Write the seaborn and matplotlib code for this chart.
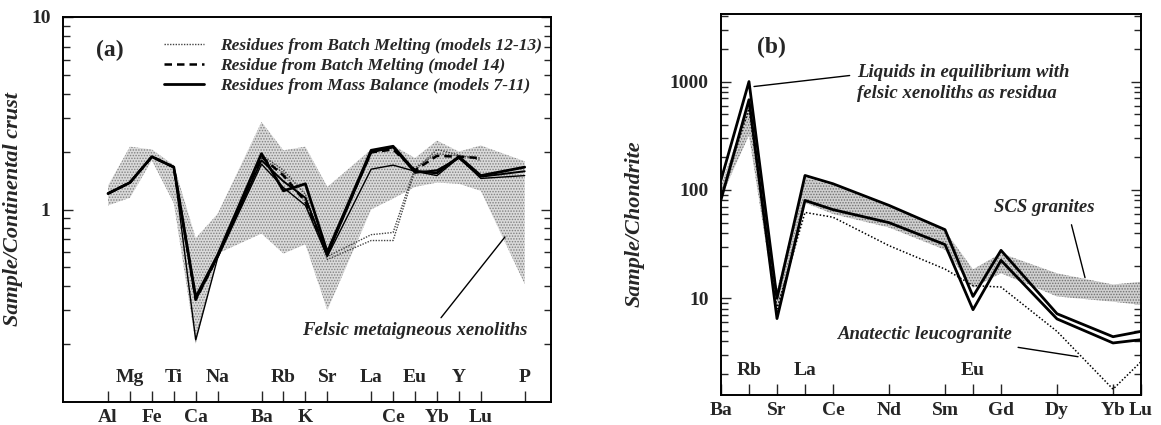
import numpy as np
import pandas as pd
import matplotlib
matplotlib.use("Agg")
import matplotlib.pyplot as plt
import seaborn as sns
from matplotlib.ticker import FixedLocator, NullFormatter, LogLocator

# ---------------- panel (a): normalised to continental crust ----------------
a_elements = ["Al", "Mg", "Fe", "Ti", "Ca", "Na", "Ba", "Rb", "K", "Sr",
              "La", "Ce", "Eu", "Yb", "Y", "Lu", "P"]
a_slots = [0, 1, 2, 3, 4, 5, 7, 8, 9, 10, 12, 13, 14, 15, 16, 17, 19]
a_inside = ["Mg", "Ti", "Na", "Rb", "Sr", "La", "Eu", "Y", "P"]

# felsic metaigneous xenoliths (shaded field)
a_field_hi = [1.33, 2.12, 2.05, 1.70, 0.71, 0.95, 2.85, 2.03, 2.12, 1.31,
              2.05, 2.15, 1.85, 2.28, 2.00, 2.15, 1.78]
a_field_lo = [1.05, 1.15, 1.80, 1.08, 0.20, 0.59, 0.75, 0.59, 0.66, 0.30,
              1.00, 1.14, 1.31, 1.38, 1.36, 1.25, 0.41]

# residues from mass balance (models 7-11)
a_mb1 = [1.21, 1.38, 1.88, 1.66, 0.35, 0.58, 1.95, 1.25, 1.36, 0.60,
         2.03, 2.13, 1.58, 1.55, 1.88, 1.50, 1.66]
a_mb2 = [1.21, 1.38, 1.88, 1.66, 0.34, 0.57, 1.80, 1.40, 1.15, 0.58,
         1.98, 2.10, 1.55, 1.60, 1.85, 1.48, 1.58]
a_mb3 = [1.21, 1.38, 1.88, 1.66, 0.21, 0.56, 1.72, 1.30, 1.05, 0.57,
         1.62, 1.70, 1.58, 1.50, 1.86, 1.45, 1.50]
# residue from batch melting (model 14)
a_bm14 = [1.21, 1.38, 1.88, 1.66, 0.34, 0.57, 1.88, 1.50, 1.10, 0.60,
          1.98, 2.05, 1.60, 1.90, 1.88, 1.85, np.nan]
# residues from batch melting (models 12-13)
a_bm12 = [1.21, 1.38, 1.88, 1.66, 0.34, 0.57, 1.92, 1.60, 1.20, 0.57,
          0.74, 0.76, 1.65, 1.95, 1.90, 1.85, np.nan]
a_bm13 = [1.21, 1.38, 1.88, 1.66, 0.34, 0.57, 1.85, 1.55, 1.10, 0.55,
          0.69, 0.69, 1.60, 2.05, 1.92, 1.80, np.nan]

# ---------------- panel (b): normalised to chondrite ----------------
b_elements = ["Ba", "Rb", "Sr", "La", "Ce", "Nd", "Sm", "Eu", "Gd", "Dy", "Yb", "Lu"]
b_slots = [0, 1, 2, 3, 4, 6, 8, 9, 10, 12, 14, 15]
b_inside = ["Rb", "La", "Eu"]

b_scs_hi = [110, 600, 12, 130, 110, 70, 42, 18.5, 26, 17, 13.4, 14.2]
b_scs_lo = [85, 320, 7, 76, 60, 45, 28, 12.5, 17, 10.4, 9.3, 8.7]
b_liq_hi = [123, 1000, 10.0, 136, 114, 72, 43, 10.4, 27.7, 7.2, 4.42, 4.95]
b_liq_lo = [81, 680, 6.5, 80, 65.8, 49.9, 31.3, 7.85, 22.4, 6.45, 3.87, 4.15]
b_leuco = [90, 560, 8.0, 62, 56, 30.6, 18.6, 13.1, 12.7, 4.95, 1.45, 2.6]

sns.set_theme(style="ticks")
plt.rcParams["font.family"] = ["Liberation Serif", "DejaVu Serif"]
plt.rcParams["hatch.linewidth"] = 0.7
plt.rcParams["axes.linewidth"] = 1.4

fig = plt.figure(figsize=(11.61, 4.25), dpi=100)
ax_a = fig.add_axes([0.0543, 0.0541, 0.4203, 0.9059])
ax_b = fig.add_axes([0.621, 0.0705, 0.3618, 0.8965])

BI = dict(fontweight="bold", fontstyle="italic")


def style_axes(ax, slots, names, inside, xlim, ylim, major):
    ax.set_yscale("log")
    ax.set_xlim(*xlim)
    ax.set_ylim(*ylim)
    out_pos = [s for s, n in zip(slots, names) if n not in inside]
    out_lab = [n for n in names if n not in inside]
    in_pos = [s for s, n in zip(slots, names) if n in inside]
    in_lab = [n for n in names if n in inside]
    ax.xaxis.set_major_locator(FixedLocator(out_pos))
    ax.set_xticklabels(out_lab, fontsize=14, fontweight="bold")
    ax.set_xticks(in_pos, minor=True)
    ax.set_xticklabels(in_lab, minor=True, fontsize=14, fontweight="bold")
    ax.tick_params(axis="x", which="both", direction="in", length=8, width=1.0,
                   bottom=True, top=False)
    ax.tick_params(axis="x", which="major", pad=5)
    ax.tick_params(axis="x", which="minor", pad=-24)
    ax.yaxis.set_major_locator(FixedLocator(major))
    ax.set_yticklabels([f"{m:g}" for m in major], fontsize=14, fontweight="bold")
    ax.yaxis.set_minor_locator(LogLocator(base=10, subs=np.arange(2, 10)))
    ax.yaxis.set_minor_formatter(NullFormatter())
    ax.tick_params(axis="y", which="both", direction="in", left=True, right=True,
                   width=1.0)
    ax.tick_params(axis="y", which="major", length=7, pad=9)
    ax.tick_params(axis="y", which="minor", length=5)
    for sp in ax.spines.values():
        sp.set_visible(True)
        sp.set_linewidth(1.4)
        sp.set_color("black")
    ax.grid(False)


# ---------------- draw panel (a) ----------------
ax = ax_a
ax.set_yscale("log")
ax.fill_between(a_slots, a_field_lo, a_field_hi, facecolor="#dadada",
                edgecolor="#808080", hatch="......", linewidth=0, zorder=1)

dot = (0, (1, 1))
for i, s in enumerate([a_bm12, a_bm13]):
    sns.lineplot(x=a_slots, y=s, ax=ax, color="#444444", linewidth=1.0,
                 linestyle=dot, sort=False, estimator=None,
                 label="Residues from Batch Melting (models 12-13)" if i == 0 else None)
sns.lineplot(x=a_slots, y=a_bm14, ax=ax, color="black", linewidth=1.8,
             linestyle=(0, (3, 2)), sort=False, estimator=None,
             label="Residue from Batch Melting (model 14)")
for i, (s, w) in enumerate([(a_mb1, 2.0), (a_mb2, 1.4), (a_mb3, 1.0)]):
    sns.lineplot(x=a_slots, y=s, ax=ax, color="black", linewidth=w,
                 sort=False, estimator=None,
                 label="Residues from Mass Balance (models 7-11)" if i == 0 else None)

style_axes(ax, a_slots, a_elements, a_inside, (-2.05, 20.2), (0.1, 10), [1, 10])
ax.set_ylabel("Sample/Continental crust", fontsize=16, **BI)
ax.yaxis.set_label_coords(-0.082, 0.5)

handles, labels = ax.get_legend_handles_labels()
leg = ax.legend(handles, labels, loc="upper left", bbox_to_anchor=(0.183, 0.978),
                frameon=False, fontsize=12.5, handlelength=2.3, handletextpad=0.9,
                labelspacing=0.22, borderpad=0.2)
for t in leg.get_texts():
    t.set_fontweight("bold")
    t.set_fontstyle("italic")

ax.text(0.096, 0.914, "(a)", transform=ax.transAxes, fontsize=17,
        fontweight="bold", ha="center", va="center")
ax.annotate("Felsic metaigneous xenoliths", xy=(18.1, 0.72), xytext=(14.0, 0.235),
            fontsize=13.5, ha="center", va="center", **BI,
            arrowprops=dict(arrowstyle="-", color="black", lw=1.0,
                            relpos=(0.6, 1.0), shrinkA=1, shrinkB=0))

# ---------------- draw panel (b) ----------------
ax = ax_b
ax.set_yscale("log")
ax.fill_between(b_slots, b_scs_lo, b_scs_hi, facecolor="#d0d0d0",
                edgecolor="#707070", hatch="......", linewidth=0, zorder=1)
sns.lineplot(x=b_slots, y=b_leuco, ax=ax, color="black", linewidth=1.1,
             linestyle=(0, (1, 1.3)), sort=False, estimator=None)
sns.lineplot(x=b_slots, y=b_liq_hi, ax=ax, color="black", linewidth=2.0,
             sort=False, estimator=None)
sns.lineplot(x=b_slots, y=b_liq_lo, ax=ax, color="black", linewidth=2.0,
             sort=False, estimator=None)

style_axes(ax, b_slots, b_elements, b_inside, (0, 15), (1.28, 4200), [10, 100, 1000])
ax.set_ylabel("Sample/Chondrite", fontsize=16, **BI)
ax.yaxis.set_label_coords(-0.181, 0.45)
if ax.get_legend() is not None:
    ax.get_legend().remove()

ax.text(0.121, 0.911, "(b)", transform=ax.transAxes, fontsize=17,
        fontweight="bold", ha="center", va="center")
ax.annotate("Liquids in equilibrium with\nfelsic xenoliths as residua",
            xy=(1.18, 900), xytext=(4.86, 970), fontsize=13.5, ha="left",
            va="center", linespacing=1.3, **BI,
            arrowprops=dict(arrowstyle="-", color="black", lw=1.0,
                            relpos=(0.0, 0.72), shrinkA=3, shrinkB=0))
ax.annotate("SCS granites", xy=(13.0, 15.5), xytext=(11.54, 68.7),
            fontsize=13.5, ha="center", va="center", **BI,
            arrowprops=dict(arrowstyle="-", color="black", lw=1.0,
                            relpos=(0.75, 0.0), shrinkA=4, shrinkB=0))
ax.annotate("Anatectic leucogranite", xy=(12.75, 2.89), xytext=(7.29, 4.61),
            fontsize=13.5, ha="center", va="center", **BI,
            arrowprops=dict(arrowstyle="-", color="black", lw=1.0,
                            relpos=(0.88, 0.0), shrinkA=4, shrinkB=0))

fig.savefig("out.png", dpi=100, facecolor="white")
